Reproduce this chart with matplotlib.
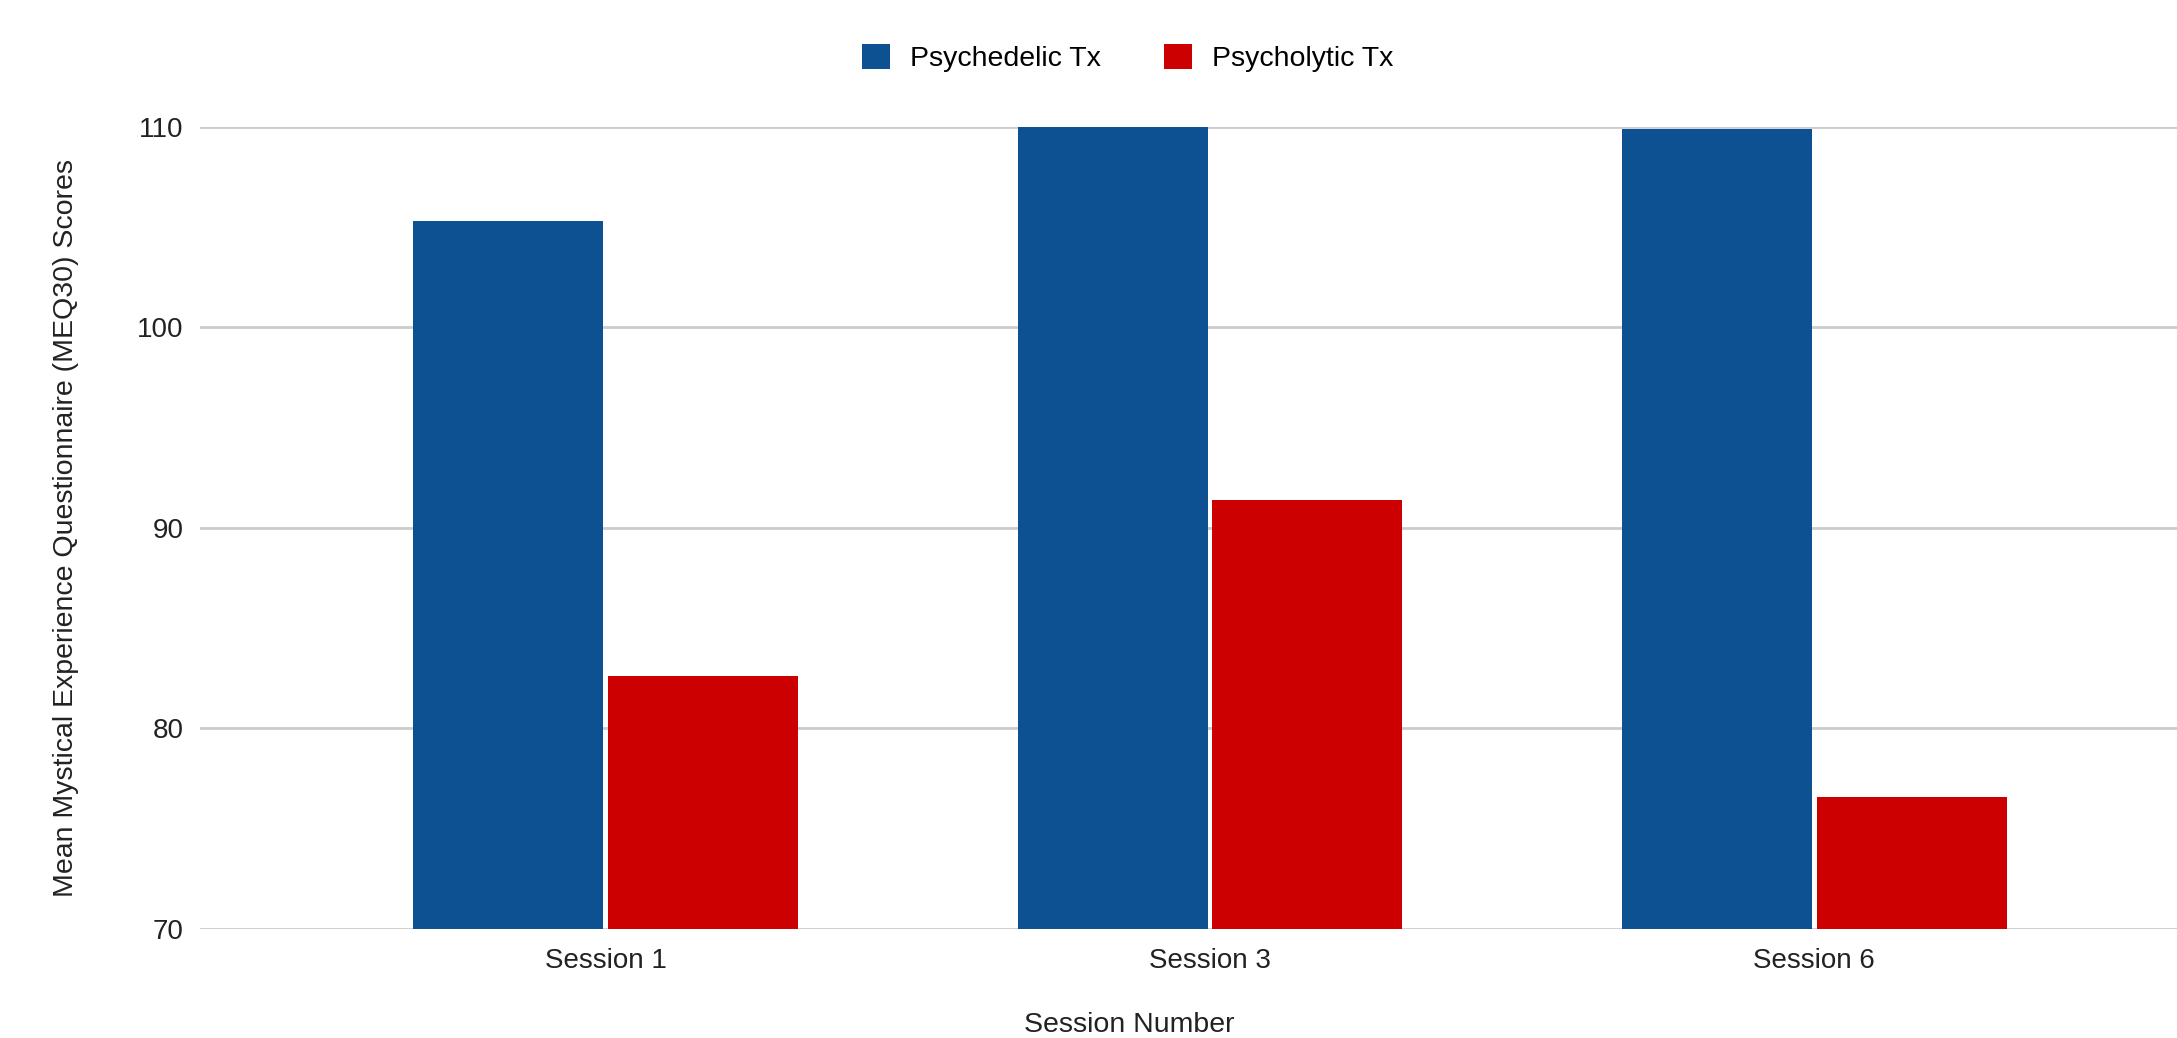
import matplotlib
matplotlib.use("Agg")
import matplotlib.pyplot as plt
import numpy as np

plt.rcParams['font.family'] = ['Liberation Sans', 'DejaVu Sans']

# mean MEQ30 scores per session
sessions = ["Session 1", "Session 3", "Session 6"]
psychedelic = [105.3, 111.0, 109.9]
psycholytic = [82.6, 91.4, 76.6]
y_ticks = [70, 80, 90, 100, 110]

blue = "#0e5193"
red = "#cc0000"

fig = plt.figure(figsize=(21.77, 10.38), dpi=100)
ax = fig.add_axes([0.0919, 0.105, 0.9081, 0.7728])

x = np.arange(len(sessions))
w = 0.314
off = 0.161
ax.bar(x - off, psychedelic, w, color=blue, label="Psychedelic Tx", zorder=3)
ax.bar(x + off, psycholytic, w, color=red, label="Psycholytic Tx", zorder=3)

ax.set_ylim(70, 110)
ax.set_xlim(-0.671, 2.6)
ax.set_yticks(y_ticks)
ax.set_xticks(x)
ax.set_xticklabels(sessions)
ax.tick_params(axis="both", length=0, labelsize=20, colors="#222222")
ax.tick_params(axis="y", pad=12)
ax.tick_params(axis="x", pad=14)
ax.yaxis.grid(True, color="#cccccc", linewidth=2, zorder=0)
for s in ax.spines.values():
    s.set_visible(False)

ax.set_ylabel("Mean Mystical Experience Questionnaire (MEQ30) Scores",
              fontsize=20.5, color="#222222")
ax.yaxis.set_label_coords(-0.061, 0.5)
fig.text(0.5185, 0.013, "Session Number", ha="center", va="center",
         fontsize=20.5, color="#222222")

fig.legend(loc="center", bbox_to_anchor=(0.518, 0.944), ncol=2, frameon=False,
           fontsize=20.5, handlelength=1.0, handleheight=1.0,
           columnspacing=2.2, handletextpad=0.7)

fig.savefig("out.png", dpi=100, facecolor="white")
